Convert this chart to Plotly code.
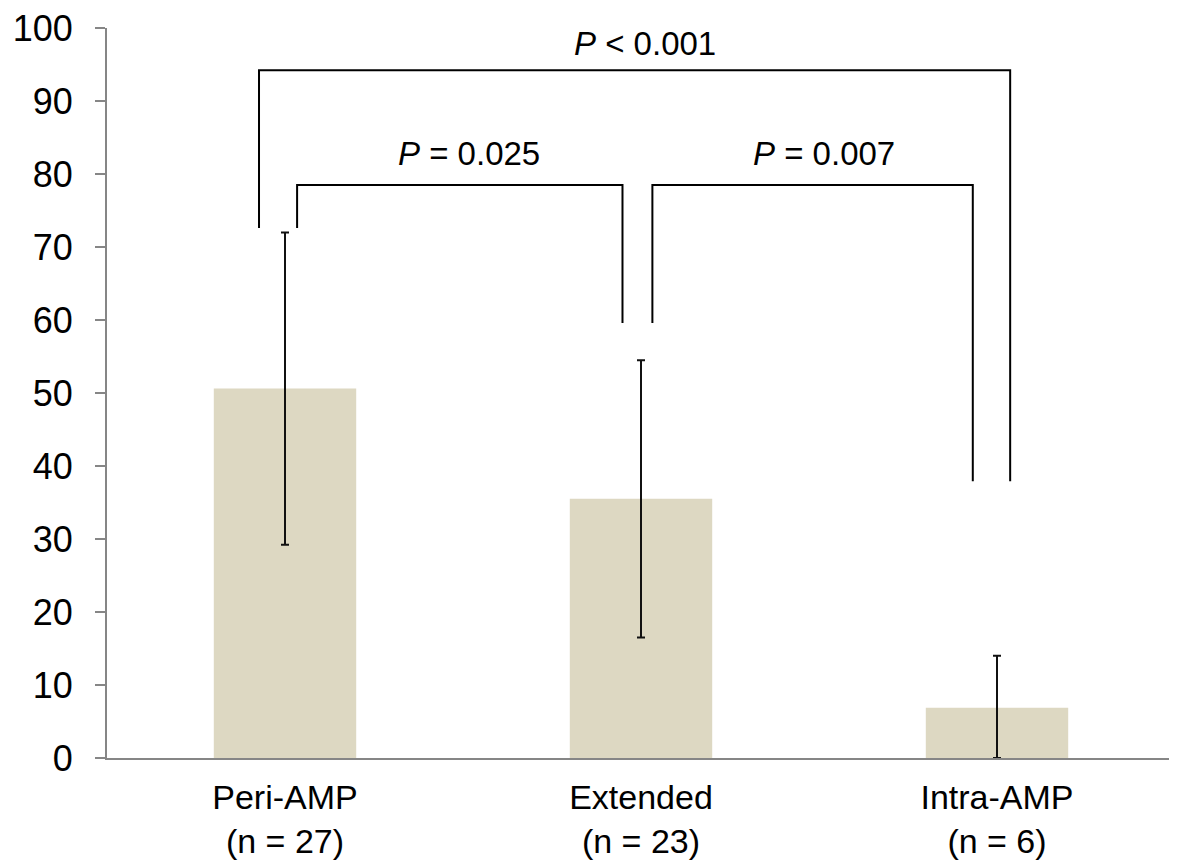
import plotly.graph_objects as go

categories = ["Peri-AMP<br>(n = 27)", "Extended<br>(n = 23)", "Intra-AMP<br>(n = 6)"]
means = [50.6, 35.5, 6.9]
err_plus = [21.4, 19.0, 7.1]
err_minus = [21.4, 19.0, 6.9]

# bracket definitions: x_left, x_right, y_left_bottom, y_right_bottom, y_top
br_xl = [-0.073, 0.034, 1.032]
br_xr = [2.037, 0.948, 1.932]
br_yl = [72.6, 72.6, 59.6]
br_yr = [37.9, 59.6, 37.9]
br_top = [94.2, 78.5, 78.5]
p_labels = ["<i>P</i> < 0.001", "<i>P</i> = 0.025", "<i>P</i> = 0.007"]
p_x = [1.01, 0.518, 1.513]
p_y = [97.9, 82.8, 82.8]

FONT = "Arial, Liberation Sans, sans-serif"

fig = go.Figure()
fig.add_trace(go.Bar(
    x=[0, 1, 2], y=means, width=0.4,
    marker=dict(color="#ddd8c2", line=dict(width=0)),
    error_y=dict(type="data", symmetric=False, array=err_plus, arrayminus=err_minus,
                 color="#111111", thickness=2, width=4),
))

for xl, xr, yl, yr, yt in zip(br_xl, br_xr, br_yl, br_yr, br_top):
    fig.add_shape(type="path", xref="x", yref="y",
                  path=f"M {xl} {yl} L {xl} {yt} L {xr} {yt} L {xr} {yr}",
                  line=dict(color="black", width=2))

for t, px, py in zip(p_labels, p_x, p_y):
    fig.add_annotation(x=px, y=py, xref="x", yref="y", text=t, showarrow=False,
                       font=dict(family=FONT, size=33, color="black"))

fig.update_layout(
    width=1177, height=862,
    margin=dict(l=99, r=10, t=20, b=112),
    paper_bgcolor="white", plot_bgcolor="white",
    showlegend=False,
    font=dict(family=FONT, color="black"),
    xaxis=dict(range=[-0.5, 2.5], tickmode="array", tickvals=[0, 1, 2], ticktext=categories,
               showline=True, linecolor="#868686", linewidth=2, showgrid=False, zeroline=False,
               automargin=False,
               ticks="", tickfont=dict(size=34, family=FONT, color="black"), ticklabelstandoff=8),
    yaxis=dict(range=[0, 100], tickvals=list(range(0, 101, 10)),
               showline=True, linecolor="#868686", linewidth=2, showgrid=False, zeroline=False,
               ticks="outside", ticklen=10, tickcolor="#868686", tickwidth=2,
               ticklabeloverflow="allow", automargin=False,
               tickfont=dict(size=36, family=FONT, color="black"), ticklabelstandoff=15),
)

fig.write_html("out.html")
